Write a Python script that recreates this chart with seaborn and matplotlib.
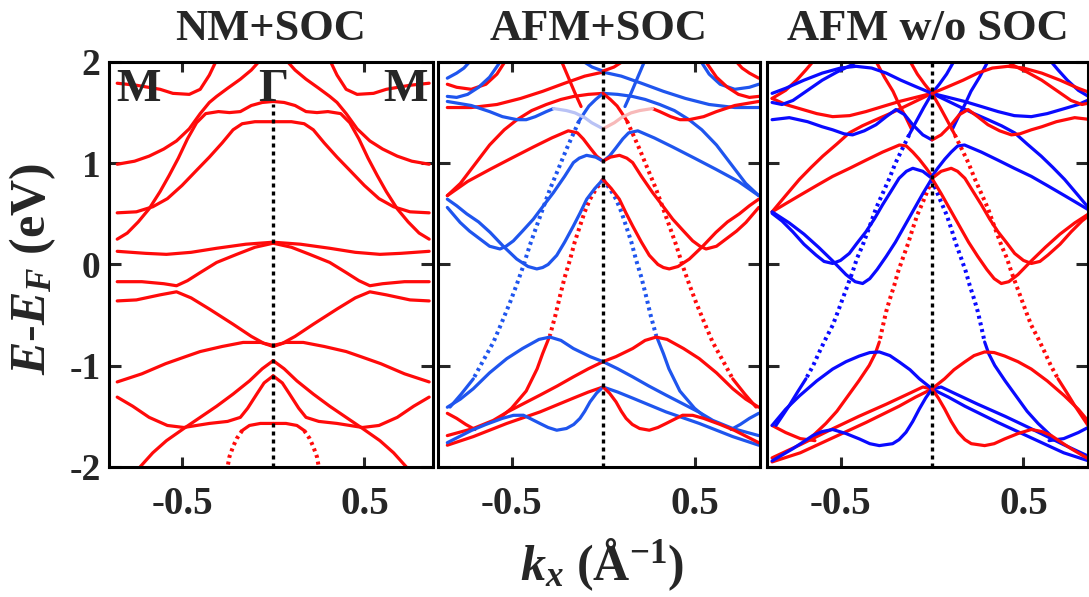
import matplotlib
matplotlib.use("Agg")
import matplotlib.pyplot as plt
import seaborn as sns

# ==========================================
# BAND DATA
# every band is given on the left half (k <= 0) as (k, E) points;
# the right half is its mirror image (spin colour swapped for AFM panels)
# ==========================================
PANEL_TITLES = ["NM+SOC", "AFM+SOC", "AFM w/o SOC"]
Y_TICKS = [-2, -1, 0, 1, 2]
X_TICKS = [-0.5, 0.5]
KPOINT_LABELS = ["M", "Γ", "M"]
KPOINT_POS = [-0.74, 0.0, 0.726]

# --- NM+SOC (all red, symmetric about Gamma)
NM_A = [(-0.855, 1.79), (-0.75, 1.77), (-0.62, 1.73), (-0.55, 1.69), (-0.46, 1.68),
        (-0.40, 1.73), (-0.35, 1.87), (-0.31, 2.02)]
NM_B1 = [(-0.855, 0.25), (-0.80, 0.31), (-0.74, 0.42), (-0.68, 0.55), (-0.62, 0.72),
         (-0.57, 0.88), (-0.52, 1.05), (-0.47, 1.24), (-0.42, 1.40), (-0.37, 1.49),
         (-0.30, 1.51), (-0.24, 1.50), (-0.18, 1.51), (-0.12, 1.57), (-0.06, 1.60), (0.0, 1.61)]
NM_B2 = [(-0.855, 0.51), (-0.75, 0.52), (-0.66, 0.57), (-0.58, 0.65), (-0.50, 0.78),
         (-0.42, 0.93), (-0.35, 1.06), (-0.28, 1.20), (-0.22, 1.33), (-0.17, 1.39),
         (-0.10, 1.41), (0.0, 1.41)]
NM_B3 = [(-0.855, 0.99), (-0.76, 1.02), (-0.68, 1.07), (-0.60, 1.14), (-0.53, 1.22),
         (-0.46, 1.34), (-0.40, 1.49), (-0.35, 1.60), (-0.31, 1.66), (-0.25, 1.74),
         (-0.18, 1.83), (-0.12, 1.92), (-0.07, 2.02)]
NM_FLAT = [(-0.855, 0.13), (-0.70, 0.11), (-0.585, 0.10), (-0.45, 0.12), (-0.31, 0.16),
           (-0.15, 0.20), (0.0, 0.22)]
NM_B4 = [(-0.855, -0.17), (-0.72, -0.17), (-0.60, -0.19), (-0.53, -0.21), (-0.47, -0.16),
         (-0.40, -0.08), (-0.31, 0.02), (-0.20, 0.10), (-0.10, 0.17), (0.0, 0.21)]
NM_B5 = [(-0.855, -0.36), (-0.75, -0.35), (-0.62, -0.30), (-0.53, -0.27), (-0.45, -0.33),
         (-0.35, -0.44), (-0.22, -0.59), (-0.12, -0.71), (-0.05, -0.78), (0.0, -0.81)]
NM_B6 = [(-0.855, -1.16), (-0.72, -1.08), (-0.59, -0.98), (-0.48, -0.91), (-0.40, -0.86),
         (-0.28, -0.81), (-0.165, -0.77), (-0.07, -0.77), (0.0, -0.80)]
NM_B7 = [(0.0, -0.95), (-0.06, -1.03), (-0.13, -1.15), (-0.22, -1.28), (-0.31, -1.40),
         (-0.40, -1.51), (-0.49, -1.62), (-0.585, -1.74), (-0.66, -1.86), (-0.73, -2.0)]
NM_B8 = [(0.0, -1.10), (-0.05, -1.17), (-0.09, -1.28), (-0.14, -1.42), (-0.18, -1.51),
         (-0.25, -1.55), (-0.35, -1.57), (-0.49, -1.61), (-0.58, -1.59), (-0.68, -1.51),
         (-0.77, -1.40), (-0.855, -1.31)]
NM_B9 = [(0.0, -1.57), (-0.07, -1.57), (-0.13, -1.59), (-0.17, -1.64)]
NM_B9_STEEP = [(-0.17, -1.64), (-0.20, -1.72), (-0.22, -1.80), (-0.24, -1.90), (-0.25, -2.0)]

# --- AFM+SOC, red (spin up) bands, left half
A_R1 = [(-0.851, 0.68), (-0.78, 0.80), (-0.70, 0.99), (-0.62, 1.18), (-0.54, 1.33),
        (-0.47, 1.43), (-0.39, 1.52), (-0.31, 1.58), (-0.23, 1.63), (-0.16, 1.66),
        (-0.08, 1.68), (0.0, 1.69)]
A_R2 = [(-0.851, 0.68), (-0.74, 0.82), (-0.617, 0.94), (-0.50, 1.05), (-0.381, 1.16),
        (-0.28, 1.25), (-0.19, 1.32), (-0.14, 1.30), (-0.108, 1.24), (-0.07, 1.15),
        (-0.035, 1.07), (0.0, 1.02)]
A_R3_STEEP = [(0.0, 0.84), (-0.04, 0.74), (-0.071, 0.645), (-0.10, 0.52), (-0.126, 0.38),
              (-0.155, 0.22), (-0.18, 0.05), (-0.21, -0.13), (-0.235, -0.31), (-0.26, -0.50),
              (-0.29, -0.70)]
A_R3_LOW = [(-0.29, -0.70), (-0.33, -0.88), (-0.36, -1.03), (-0.42, -1.25), (-0.50, -1.42),
            (-0.56, -1.51)]
A_R4 = [(-0.851, -1.47), (-0.80, -1.52), (-0.75, -1.58), (-0.70, -1.63)]
A_R5 = [(-0.851, -1.69), (-0.709, -1.62), (-0.60, -1.54), (-0.526, -1.46), (-0.43, -1.37),
        (-0.344, -1.29), (-0.25, -1.20), (-0.162, -1.11), (-0.08, -1.03), (0.0, -0.96)]
A_R6 = [(-0.851, -1.785), (-0.709, -1.70), (-0.526, -1.57), (-0.344, -1.456),
        (-0.162, -1.32), (-0.08, -1.26), (0.0, -1.21)]
A_RT1 = [(-0.851, 1.78), (-0.80, 1.75), (-0.72, 1.73), (-0.64, 1.78), (-0.58, 1.88), (-0.53, 2.02)]
A_RT2 = [(-0.851, 1.55), (-0.72, 1.55), (-0.58, 1.58), (-0.45, 1.64), (-0.33, 1.71),
         (-0.21, 1.79), (-0.10, 1.86), (0.0, 1.90)]
A_RT3 = [(-0.23, 2.02), (-0.19, 1.85), (-0.155, 1.70), (-0.12, 1.56)]

# --- AFM+SOC, blue (spin down) bands, left half
A_B1 = [(0.0, 0.84), (-0.045, 0.75), (-0.089, 0.645), (-0.125, 0.51), (-0.162, 0.38),
        (-0.21, 0.22), (-0.253, 0.09), (-0.30, 0.0), (-0.33, -0.03), (-0.362, -0.044),
        (-0.41, -0.02), (-0.472, 0.054), (-0.545, 0.18), (-0.617, 0.317), (-0.68, 0.42),
        (-0.745, 0.50), (-0.80, 0.58), (-0.851, 0.645)]
A_B2 = [(0.0, 1.02), (-0.04, 1.06), (-0.09, 1.078), (-0.13, 1.05), (-0.162, 1.006),
        (-0.21, 0.87), (-0.271, 0.71), (-0.33, 0.57), (-0.381, 0.447), (-0.44, 0.33),
        (-0.49, 0.233), (-0.53, 0.18), (-0.563, 0.153), (-0.62, 0.18), (-0.672, 0.251),
        (-0.73, 0.33), (-0.781, 0.415), (-0.851, 0.563)]
A_B3_TOP = [(0.0, 1.69), (-0.04, 1.63), (-0.077, 1.565), (-0.105, 1.49), (-0.131, 1.417)]
A_B3_STEEP = [(-0.131, 1.417), (-0.165, 1.28), (-0.20, 1.138), (-0.245, 0.94), (-0.29, 0.744),
              (-0.325, 0.57), (-0.362, 0.384), (-0.40, 0.19), (-0.435, -0.011), (-0.47, -0.19),
              (-0.508, -0.373), (-0.555, -0.58), (-0.599, -0.767), (-0.655, -0.95), (-0.709, -1.13)]
A_B3_LOW = [(-0.709, -1.13), (-0.775, -1.28), (-0.836, -1.408)]
A_B4 = [(0.0, -0.96), (-0.071, -0.91), (-0.162, -0.83), (-0.23, -0.75), (-0.29, -0.717),
        (-0.35, -0.74), (-0.44, -0.83), (-0.526, -0.93), (-0.62, -1.07), (-0.709, -1.227),
        (-0.78, -1.33), (-0.851, -1.41)]
A_B5 = [(0.0, -1.21), (-0.035, -1.27), (-0.071, -1.357), (-0.10, -1.45), (-0.126, -1.52),
        (-0.16, -1.58), (-0.20, -1.62), (-0.253, -1.637), (-0.30, -1.61), (-0.344, -1.571),
        (-0.40, -1.52), (-0.435, -1.489), (-0.49, -1.49), (-0.55, -1.52), (-0.64, -1.58),
        (-0.72, -1.64), (-0.851, -1.76)]
A_BT1 = [(-0.851, 1.84), (-0.80, 1.89), (-0.76, 1.94), (-0.72, 2.02)]
A_BT2 = [(-0.851, 1.66), (-0.80, 1.65), (-0.74, 1.68), (-0.68, 1.75), (-0.62, 1.85), (-0.555, 2.02)]
A_BT3 = [(-0.851, 1.61), (-0.72, 1.57), (-0.62, 1.51), (-0.55, 1.46), (-0.47, 1.43),
         (-0.42, 1.43), (-0.37, 1.46), (-0.31, 1.51), (-0.27, 1.54)]
A_BT3_MIXED = [(-0.27, 1.54), (-0.20, 1.52), (-0.153, 1.497), (-0.10, 1.45), (-0.062, 1.40), (0.0, 1.34)]
A_BT4 = [(-0.12, 2.02), (-0.06, 1.95), (0.0, 1.91)]

# --- AFM w/o SOC, red bands, left half
W_R1 = [(-0.874, 0.52), (-0.80, 0.60), (-0.725, 0.68), (-0.63, 0.78), (-0.543, 0.87),
        (-0.45, 0.95), (-0.361, 1.03), (-0.27, 1.11), (-0.178, 1.18), (-0.14, 1.17),
        (-0.105, 1.11), (-0.07, 1.04), (-0.031, 0.95), (0.0, 0.87)]
W_R2 = [(-0.874, 0.52), (-0.80, 0.68), (-0.725, 0.84), (-0.66, 0.96), (-0.597, 1.07),
        (-0.52, 1.19), (-0.452, 1.30), (-0.38, 1.37), (-0.306, 1.43), (-0.23, 1.49),
        (-0.16, 1.55), (-0.08, 1.62), (0.0, 1.69)]
W_R3_STEEP = [(0.0, 0.835), (-0.049, 0.62), (-0.08, 0.49), (-0.105, 0.356), (-0.13, 0.21),
              (-0.16, 0.059), (-0.185, -0.07), (-0.206, -0.205), (-0.23, -0.34), (-0.251, -0.469),
              (-0.27, -0.62), (-0.288, -0.766)]
W_R3_LOW = [(-0.288, -0.766), (-0.31, -0.88), (-0.343, -0.997), (-0.40, -1.15), (-0.46, -1.30),
            (-0.52, -1.45), (-0.58, -1.57), (-0.65, -1.69)]
W_R4 = [(-0.874, -1.95), (-0.72, -1.86), (-0.54, -1.71), (-0.36, -1.56), (-0.18, -1.40),
        (-0.09, -1.31), (0.0, -1.23)]
W_R5 = [(-0.874, -1.91), (-0.72, -1.78), (-0.54, -1.62), (-0.40, -1.50), (-0.25, -1.38),
        (-0.12, -1.27), (-0.05, -1.21), (0.0, -1.23)]
W_R6 = [(-0.874, -1.59), (-0.80, -1.66), (-0.72, -1.72), (-0.64, -1.74)]
W_RT1 = [(-0.874, 1.64), (-0.80, 1.58), (-0.725, 1.54), (-0.63, 1.49), (-0.543, 1.46),
         (-0.45, 1.47), (-0.361, 1.51), (-0.27, 1.56), (-0.178, 1.61), (-0.09, 1.65), (0.0, 1.69)]
W_RT2 = [(-0.874, 1.64), (-0.80, 1.72), (-0.74, 1.82), (-0.69, 1.92), (-0.643, 2.02)]
W_RT3 = [(-0.31, 2.02), (-0.26, 1.85), (-0.213, 1.71), (-0.18, 1.58), (-0.142, 1.45),
         (-0.11, 1.33)]
W_RT4 = [(-0.124, 2.02), (-0.08, 1.88), (-0.04, 1.78), (0.0, 1.69)]

# --- AFM w/o SOC, blue bands, left half
W_B1_TOP = [(0.0, 1.69), (-0.045, 1.55), (-0.087, 1.41), (-0.125, 1.28)]
W_B1_STEEP = [(-0.125, 1.28), (-0.16, 1.15), (-0.20, 1.00), (-0.233, 0.85), (-0.27, 0.70),
              (-0.306, 0.554), (-0.34, 0.38), (-0.379, 0.19), (-0.41, 0.06), (-0.434, -0.073),
              (-0.46, -0.20), (-0.488, -0.337), (-0.515, -0.47), (-0.543, -0.601), (-0.58, -0.73),
              (-0.616, -0.865), (-0.65, -1.0), (-0.689, -1.129)]
W_B1_LOW = [(-0.689, -1.129), (-0.735, -1.26), (-0.78, -1.393), (-0.853, -1.59)]
W_B2 = [(0.0, 0.85), (-0.05, 0.92), (-0.105, 0.95), (-0.14, 0.92), (-0.18, 0.851),
        (-0.225, 0.72), (-0.27, 0.59), (-0.315, 0.45), (-0.361, 0.323), (-0.41, 0.21),
        (-0.452, 0.109), (-0.50, 0.04), (-0.543, 0.01), (-0.59, 0.03), (-0.634, 0.093),
        (-0.70, 0.20), (-0.761, 0.323), (-0.82, 0.43), (-0.874, 0.505)]
W_B3 = [(0.0, 0.85), (-0.05, 0.70), (-0.10, 0.54), (-0.15, 0.38), (-0.20, 0.22),
        (-0.25, 0.08), (-0.30, -0.05), (-0.34, -0.14), (-0.379, -0.188), (-0.42, -0.17),
        (-0.47, -0.10), (-0.54, 0.03), (-0.62, 0.17), (-0.70, 0.30), (-0.78, 0.41), (-0.874, 0.52)]
W_B4 = [(0.0, -1.228), (-0.069, -1.129), (-0.12, -1.04), (-0.178, -0.964), (-0.23, -0.90),
        (-0.288, -0.864), (-0.34, -0.87), (-0.397, -0.904), (-0.47, -0.96), (-0.543, -1.033),
        (-0.63, -1.15), (-0.724, -1.297), (-0.80, -1.43), (-0.874, -1.59)]
W_B5 = [(0.0, -1.228), (-0.035, -1.32), (-0.069, -1.426), (-0.105, -1.55), (-0.142, -1.657),
        (-0.18, -1.73), (-0.215, -1.77), (-0.288, -1.789), (-0.34, -1.77), (-0.397, -1.723),
        (-0.47, -1.67), (-0.543, -1.63), (-0.60, -1.65), (-0.652, -1.69), (-0.71, -1.76),
        (-0.761, -1.82), (-0.874, -1.94)]
W_BT1 = [(-0.874, 1.69), (-0.80, 1.74), (-0.70, 1.82), (-0.60, 1.89), (-0.50, 1.94),
         (-0.415, 1.957), (-0.33, 1.94), (-0.25, 1.89), (-0.17, 1.82), (-0.08, 1.75), (0.0, 1.69)]
W_BT2 = [(-0.874, 1.60), (-0.82, 1.58), (-0.76, 1.62), (-0.68, 1.72), (-0.60, 1.82),
         (-0.52, 1.90), (-0.44, 1.97), (-0.40, 2.02)]
W_BT3 = [(-0.874, 1.43), (-0.78, 1.45), (-0.68, 1.41), (-0.60, 1.36), (-0.543, 1.33),
         (-0.48, 1.29), (-0.434, 1.28), (-0.37, 1.32), (-0.306, 1.38), (-0.25, 1.46),
         (-0.197, 1.53), (-0.15, 1.48), (-0.105, 1.38), (-0.05, 1.28), (0.0, 1.23)]

# ==========================================
# STYLE
# ==========================================
RED = "#ff0a0a"
BLUE_SOC = "#1f55ee"
BLUE_NOSOC = "#0a0aff"
BLUE_MIXED = "#b9c2f5"
RED_MIXED = "#f7b9b9"
LW = 2.3
LW_DOT = 2.9
DOTS = (0, (0.75, 0.95))
SERIF = "Liberation Serif"

# axes boxes in figure fractions: [left, bottom, width, height]
AX_BOXES = [[0.1001, 0.2178, 0.2975, 0.6784],
            [0.4022, 0.2178, 0.2957, 0.6784],
            [0.7043, 0.2178, 0.2948, 0.6784]]
X_LIMS = [(-0.90, 0.876), (-0.902, 0.858), (-0.902, 0.853)]


def draw(ax, pts, color, dotted=False, mirror=False):
    k = [-p[0] if mirror else p[0] for p in pts]
    e = [p[1] for p in pts]
    sns.lineplot(x=k, y=e, ax=ax, color=color, lw=LW_DOT if dotted else LW, sort=False,
                 estimator=None, linestyle=DOTS if dotted else "-", solid_capstyle="round",
                 zorder=2)


def draw_pair(ax, pts, color, other, dotted=False):
    """left half in its own colour, mirrored half in the partner colour"""
    draw(ax, pts, color, dotted)
    draw(ax, pts, other, dotted, mirror=True)


sns.set_style("ticks")
plt.rcParams["font.family"] = [SERIF, "DejaVu Serif"]
plt.rcParams["font.weight"] = "bold"
plt.rcParams["axes.unicode_minus"] = False
plt.rcParams["mathtext.fontset"] = "custom"
plt.rcParams["mathtext.rm"] = "Liberation Serif:bold"
plt.rcParams["mathtext.it"] = "Liberation Serif:bold:italic"
plt.rcParams["mathtext.bf"] = "Liberation Serif:bold"

fig = plt.figure(figsize=(10.89, 5.97), dpi=100)
axes = [fig.add_axes(box) for box in AX_BOXES]

# --- panel 1: NM+SOC
ax = axes[0]
for band in [NM_A, NM_B1, NM_B2, NM_B3, NM_FLAT, NM_B4, NM_B5, NM_B6, NM_B7, NM_B8, NM_B9]:
    draw_pair(ax, band, RED, RED)
draw_pair(ax, NM_B9_STEEP, RED, RED, dotted=True)

# --- panel 2: AFM+SOC
ax = axes[1]
for band in [A_R1, A_R2, A_R3_LOW, A_R4, A_R5, A_R6, A_RT1, A_RT2, A_RT3]:
    draw_pair(ax, band, RED, BLUE_SOC)
draw_pair(ax, A_R3_STEEP, RED, BLUE_SOC, dotted=True)
for band in [A_B1, A_B2, A_B3_TOP, A_B3_LOW, A_B4, A_B5, A_BT1, A_BT2, A_BT3, A_BT4]:
    draw_pair(ax, band, BLUE_SOC, RED)
draw_pair(ax, A_B3_STEEP, BLUE_SOC, RED, dotted=True)
draw(ax, A_BT3_MIXED, BLUE_MIXED)
draw(ax, A_BT3_MIXED, RED_MIXED, mirror=True)

# --- panel 3: AFM w/o SOC
ax = axes[2]
for band in [W_R1, W_R2, W_R3_LOW, W_R4, W_R5, W_R6, W_RT1, W_RT2, W_RT3, W_RT4]:
    draw_pair(ax, band, RED, BLUE_NOSOC)
draw_pair(ax, W_R3_STEEP, RED, BLUE_NOSOC, dotted=True)
for band in [W_B1_TOP, W_B1_LOW, W_B2, W_B3, W_B4, W_B5, W_BT1, W_BT2, W_BT3]:
    draw_pair(ax, band, BLUE_NOSOC, RED)
draw_pair(ax, W_B1_STEEP, BLUE_NOSOC, RED, dotted=True)

# --- common frame styling
for i, ax in enumerate(axes):
    ax.set_xlim(*X_LIMS[i])
    ax.set_ylim(-2, 2)
    gamma_top = 1.58 if i == 0 else 2
    ax.plot([0, 0], [-2, gamma_top], color="black", lw=2.4, linestyle=(0, (1.2, 1.2)), zorder=3)
    ax.set_xticks(X_TICKS)
    ax.set_yticks(Y_TICKS)
    ax.set_xticklabels(["-0.5", "0.5"])
    ax.tick_params(axis="x", direction="in", length=7, width=2.2, top=True, bottom=True,
                   labelsize=28, pad=14)
    ax.tick_params(axis="y", direction="in", length=8.5, width=2.2, left=True, right=True,
                   labelsize=27, pad=6, labelleft=(i == 0))
    for lab in ax.get_xticklabels() + ax.get_yticklabels():
        lab.set_fontweight("bold")
        lab.set_family(SERIF)
    for sp in ax.spines.values():
        sp.set_linewidth(2.2)
        sp.set_color("black")
        sp.set_zorder(5)
    ax.set_xlabel("")
    ax.set_ylabel("")
    ax.set_title(PANEL_TITLES[i], fontsize=32, fontweight="bold", family=SERIF, pad=16)

axes[0].set_yticklabels([str(v) for v in Y_TICKS])
for lab in axes[0].get_yticklabels():
    lab.set_fontweight("bold")

for name, kx in zip(KPOINT_LABELS, KPOINT_POS):
    axes[0].text(kx, 1.61, name, fontsize=34, fontweight="bold", family=SERIF,
                 ha="center", va="baseline", zorder=6)

fig.text(0.03, 0.55, r"$E$-$E_F$ (eV)", rotation=90, fontsize=36, fontweight="bold",
         family=SERIF, ha="center", va="center")
fig.text(0.553, 0.055, r"$k_x$ (Å$^{\mathrm{-1}}$)", fontsize=36, fontweight="bold",
         family=SERIF, ha="center", va="center")

fig.savefig("out.png", dpi=100)
